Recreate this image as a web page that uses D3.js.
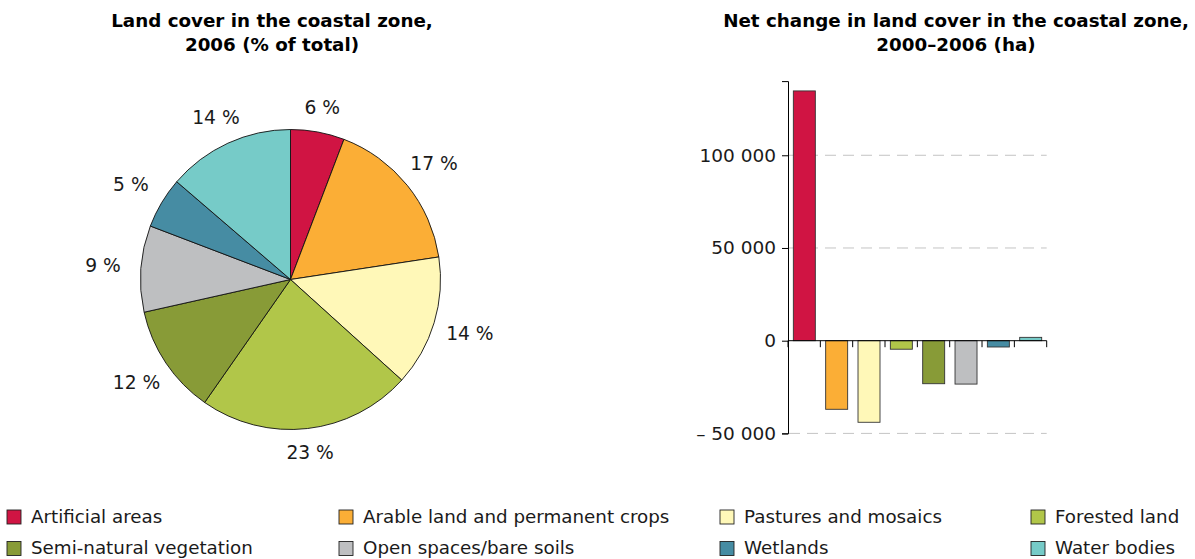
<!DOCTYPE html>
<html>
<head>
<meta charset="utf-8">
<script src="https://cdn.jsdelivr.net/npm/d3@7/dist/d3.min.js"></script>
<style>
  html, body { margin: 0; padding: 0; background: #fff; }
  svg { display: block; font-family: Verdana, "DejaVu Sans", sans-serif; }
</style>
</head>
<body>
<svg id="chart" width="1195" height="559"></svg>
<script>
// ---- Data ----
const categories = [
  "Artificial areas",
  "Arable land and permanent crops",
  "Pastures and mosaics",
  "Forested land",
  "Semi-natural vegetation",
  "Open spaces/bare soils",
  "Wetlands",
  "Water bodies"
];
const colors = ["#d01443", "#fbae36", "#fff8b8", "#b1c649", "#889b37", "#bebfc1", "#468ca3", "#76cbc8"];
const shares2006 = [5.8, 16.8, 14.1, 23.0, 11.8, 9.3, 5.5, 13.7];   // % of total (slice sizes)
const shareLabels = ["6 %", "17 %", "14 %", "23 %", "12 %", "9 %", "5 %", "14 %"];
const netChange = [134700, -37000, -44000, -4600, -23200, -23400, -3400, 1800]; // ha
const yTicks = [-50000, 0, 50000, 100000];
const pieTitle = ["Land cover in the coastal zone,", "2006 (% of total)"];
const barTitle = ["Net change in land cover in the coastal zone,", "2000\u20132006 (ha)"];

const svg = d3.select("#chart");
const txt = "#1a1a1a";

// ---- Titles ----
function title(lines, cx) {
  const t = svg.append("text").attr("text-anchor", "middle")
    .attr("font-size", 18.3).attr("font-weight", "bold").attr("fill", "#000");
  lines.forEach((l, i) => t.append("tspan").attr("x", cx).attr("y", 26.5 + i * 24).text(l));
}
title(pieTitle, 272);
title(barTitle, 956);

// ---- Pie ----
const cx = 290.5, cy = 279.5, r = 150;
const pieData = d3.pie().sort(null).value(d => d)(shares2006);
const arc = d3.arc().innerRadius(0).outerRadius(r);
const gp = svg.append("g").attr("transform", `translate(${cx},${cy})`);
gp.selectAll("path").data(pieData).join("path")
  .attr("d", arc)
  .attr("fill", (d, i) => colors[i])
  .attr("stroke", "#111").attr("stroke-width", 0.9).attr("stroke-linejoin", "round");
gp.selectAll("text").data(pieData).join("text")
  .attr("text-anchor", "middle")
  .attr("dy", "0.35em")
  .attr("font-size", 18.7).attr("fill", txt)
  .attr("transform", d => {
    const a = (d.startAngle + d.endAngle) / 2;
    const R = 172 + 16 * Math.abs(Math.sin(a));
    return `translate(${R * Math.sin(a)},${-R * Math.cos(a)})`;
  })
  .text((d, i) => shareLabels[i]);

// ---- Bar chart ----
const x = d3.scaleBand().domain(categories).range([788, 1046.7]).padding(0);
const y = d3.scaleLinear().domain([-50000, 140000]).range([433.4, 81.1]);
const fmt = v => {
  const s = d3.format(",")(Math.abs(v)).replace(/,/g, " ");
  return v < 0 ? "\u2013 " + s : s;
};

// gridlines
svg.append("g").selectAll("line").data(yTicks.filter(v => v !== 0)).join("line")
  .attr("x1", 789).attr("x2", 1046.7)
  .attr("y1", d => y(d)).attr("y2", d => y(d))
  .attr("stroke", "#c4c4c4").attr("stroke-width", 1).attr("stroke-dasharray", "11,7");

// bars
const bw = x.bandwidth();
svg.append("g").selectAll("rect").data(netChange).join("rect")
  .attr("x", (d, i) => x(categories[i]) + bw * 0.165)
  .attr("width", bw * 0.68)
  .attr("y", d => y(Math.max(0, d)))
  .attr("height", d => Math.abs(y(d) - y(0)))
  .attr("fill", (d, i) => colors[i])
  .attr("stroke", "#333").attr("stroke-width", 0.9);

// y axis
const yAxis = d3.axisLeft(y).tickValues(yTicks).tickSize(6).tickPadding(6).tickFormat(fmt);
const gy = svg.append("g").attr("transform", "translate(788,0)").call(yAxis);
gy.select(".domain").attr("stroke", "#000");
gy.selectAll(".tick line").attr("stroke", "#000");
gy.selectAll(".tick text").attr("font-size", 18.5).attr("fill", txt)
  .attr("font-family", 'Verdana, "DejaVu Sans", sans-serif');

// x axis at zero with ticks at band boundaries
const gx = svg.append("g");
gx.append("line").attr("x1", 788).attr("x2", 1046.7).attr("y1", y(0)).attr("y2", y(0))
  .attr("stroke", "#000").attr("stroke-width", 1);
const bounds = categories.map(c => x(c) + x.bandwidth()).concat([x(categories[0])]);
gx.selectAll("line.t").data(bounds).join("line").attr("class", "t")
  .attr("x1", d => d).attr("x2", d => d)
  .attr("y1", y(0)).attr("y2", y(0) + 6.5)
  .attr("stroke", "#000").attr("stroke-width", 1);

// ---- Legend ----
const colX = [7, 339, 720, 1031];
const rowY = [510, 541.5];
const lg = svg.append("g").selectAll("g").data(categories).join("g")
  .attr("transform", (d, i) => `translate(${colX[i % 4]},${rowY[Math.floor(i / 4)]})`);
lg.append("rect").attr("width", 14).attr("height", 14)
  .attr("fill", (d, i) => colors[i]).attr("stroke", "#222").attr("stroke-width", 0.9);
lg.append("text").attr("x", 24).attr("y", 12.5)
  .attr("font-size", 18.3).attr("fill", txt).text(d => d);
</script>
</body>
</html>
